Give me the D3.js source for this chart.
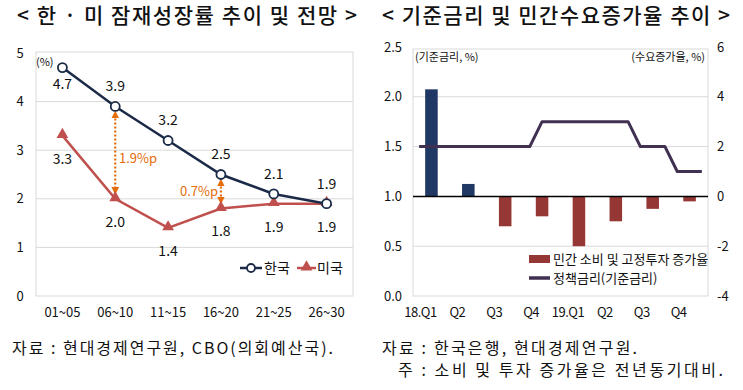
<!DOCTYPE html>
<html>
<head>
<meta charset="utf-8">
<script src="https://cdn.jsdelivr.net/npm/d3@7"></script>
<style>
  body { margin: 0; background: #fff; }
  svg text { font-family: "Noto Sans CJK KR", "Noto Sans", sans-serif; fill: #111; }
</style>
</head>
<body>
<div id="chart"></div>
<script>
// left chart data
var periods = ["01~05", "06~10", "11~15", "16~20", "21~25", "26~30"];
var korea = [4.7, 3.9, 3.2, 2.5, 2.1, 1.9];
var usa = [3.3, 2.0, 1.4, 1.8, 1.9, 1.9];
var leftTicks = [0, 1, 2, 3, 4, 5];

// right chart data
var quarters = ["18.Q1", "Q2", "Q3", "Q4", "19.Q1", "Q2", "Q3", "Q4"];
var demandGrowth = [4.3, 0.5, -1.2, -0.8, -2.0, -1.0, -0.5, -0.2];
// policy rate, monthly 2018.01 ~ 2019.12
var policyRate = [1.5, 1.5, 1.5, 1.5, 1.5, 1.5, 1.5, 1.5, 1.5, 1.5, 1.75, 1.75,
                  1.75, 1.75, 1.75, 1.75, 1.75, 1.75, 1.5, 1.5, 1.5, 1.25, 1.25, 1.25];
var rateTicks = [0, 0.5, 1.0, 1.5, 2.0, 2.5];
var growthTicks = [-4, -2, 0, 2, 4, 6];

var svg = d3.select('#chart').append('svg')
  .attr('width', 743).attr('height', 390);

// titles
svg.append('text').attr('x', 17).attr('y', 23)
  .attr('font-size', 21).attr('font-weight', 500)
  .attr('textLength', 340).attr('lengthAdjust', 'spacing')
  .text('< 한 · 미 잠재성장률 추이 및 전망 >');
svg.append('text').attr('x', 382).attr('y', 23)
  .attr('font-size', 21).attr('font-weight', 500)
  .attr('textLength', 348).attr('lengthAdjust', 'spacing')
  .text('< 기준금리 및 민간수요증가율 추이 >');

// ---------- left chart ----------
var L = { left: 36, right: 353, top: 52, bottom: 296 };
var xL = d3.scalePoint().domain(periods).range([L.left, L.right]).padding(0.5);
var yL = d3.scaleLinear().domain([0, 5]).range([L.bottom, L.top + 1]);

var gL = svg.append('g');
gL.append('rect').attr('x', L.left).attr('y', L.top)
  .attr('width', L.right - L.left).attr('height', L.bottom - L.top)
  .attr('fill', 'none').attr('stroke', '#d9d9d9');
gL.selectAll('line.grid').data(leftTicks.slice(1, 5)).enter().append('line')
  .attr('x1', L.left).attr('x2', L.right)
  .attr('y1', function(d) { return yL(d); }).attr('y2', function(d) { return yL(d); })
  .attr('stroke', '#d9d9d9');
gL.selectAll('text.ytick').data(leftTicks).enter().append('text')
  .attr('x', 20).attr('y', function(d) { return yL(d); })
  .attr('dy', '0.35em').attr('text-anchor', 'middle').attr('font-size', 13)
  .text(function(d) { return d; });
gL.selectAll('text.xtick').data(periods).enter().append('text')
  .attr('x', function(d) { return xL(d); }).attr('y', 317)
  .attr('text-anchor', 'middle').attr('font-size', 13)
  .text(function(d) { return d; });
gL.append('text').attr('x', 36).attr('y', 62).attr('dy', '0.35em')
  .attr('font-size', 11).text('(%)');

// orange gap arrows
var orange = '#e46c0a';
var defs = svg.append('defs');
defs.append('marker').attr('id', 'arr').attr('viewBox', '0 0 10 10')
  .attr('refX', 5).attr('refY', 5).attr('markerWidth', 3.5).attr('markerHeight', 3.5)
  .attr('orient', 'auto-start-reverse')
  .append('path').attr('d', 'M0,0L10,5L0,10Z').attr('fill', orange);

function gapArrow(i, txt, tx, ty) {
  var x = xL(periods[i]);
  gL.append('line').attr('x1', x).attr('x2', x)
    .attr('y1', yL(korea[i]) + 8).attr('y2', yL(usa[i]) - 8)
    .attr('stroke', orange).attr('stroke-width', 2.2).attr('stroke-dasharray', '2,2')
    .attr('marker-start', 'url(#arr)').attr('marker-end', 'url(#arr)');
  gL.append('text').attr('x', tx).attr('y', ty).attr('dy', '0.35em')
    .attr('font-size', 13).style('fill', orange).text(txt);
}
gapArrow(1, '1.9%p', 119, 158);
gapArrow(3, '0.7%p', 180, 191);

var navy = '#1b2a47', red = '#c0504d';
var lineL = d3.line().x(function(d, i) { return xL(periods[i]); }).y(function(d) { return yL(d); });
gL.append('path').datum(usa).attr('d', lineL).attr('fill', 'none')
  .attr('stroke', red).attr('stroke-width', 2.5);
gL.append('path').datum(korea).attr('d', lineL).attr('fill', 'none')
  .attr('stroke', navy).attr('stroke-width', 2.5);

var tri = d3.symbol().type(d3.symbolTriangle).size(60);
gL.selectAll('path.us').data(usa).enter().append('path')
  .attr('d', tri).attr('fill', red)
  .attr('transform', function(d, i) { return 'translate(' + xL(periods[i]) + ',' + (yL(d) - 1) + ')'; });
gL.selectAll('circle.kr').data(korea).enter().append('circle')
  .attr('cx', function(d, i) { return xL(periods[i]); }).attr('cy', function(d) { return yL(d); })
  .attr('r', 4.5).attr('fill', 'white').attr('stroke', navy).attr('stroke-width', 1.8);

gL.selectAll('text.krl').data(korea).enter().append('text')
  .attr('x', function(d, i) { return xL(periods[i]); })
  .attr('y', function(d, i) { return yL(d) + (i == 0 ? 17 : -20); })
  .attr('dy', '0.35em').attr('text-anchor', 'middle').attr('font-size', 14)
  .text(function(d) { return d.toFixed(1); });
gL.selectAll('text.usl').data(usa).enter().append('text')
  .attr('x', function(d, i) { return xL(periods[i]); })
  .attr('y', function(d) { return yL(d) + 23; })
  .attr('dy', '0.35em').attr('text-anchor', 'middle').attr('font-size', 14)
  .text(function(d) { return d.toFixed(1); });

// left legend
var lg = gL.append('g').attr('transform', 'translate(240,268)');
lg.append('line').attr('x1', 0).attr('x2', 22).attr('stroke', navy).attr('stroke-width', 2.5);
lg.append('circle').attr('cx', 11).attr('r', 4).attr('fill', 'white').attr('stroke', navy).attr('stroke-width', 1.8);
lg.append('text').attr('x', 24).attr('dy', '0.35em').attr('font-size', 14).text('한국');
lg.append('line').attr('x1', 57).attr('x2', 76).attr('stroke', red).attr('stroke-width', 2.5);
lg.append('path').attr('d', tri).attr('fill', red).attr('transform', 'translate(66.5,-1)');
lg.append('text').attr('x', 77).attr('dy', '0.35em').attr('font-size', 14).text('미국');

// ---------- right chart ----------
var R = { left: 413, right: 708, top: 47, bottom: 296 };
var xR = d3.scaleBand().domain(d3.range(quarters.length)).range([R.left, R.right])
  .paddingInner(0.66).paddingOuter(0.33);
var yRate = d3.scaleLinear().domain([0, 2.5]).range([R.bottom, R.top]);
var yGrowth = d3.scaleLinear().domain([-4, 6]).range([R.bottom, R.top]);
var xMonth = d3.scaleLinear().domain([-0.5, 23.5]).range([R.left, R.right]);

var gR = svg.append('g');
gR.append('rect').attr('x', R.left).attr('y', R.top + 2)
  .attr('width', R.right - R.left).attr('height', R.bottom - R.top - 2)
  .attr('fill', 'none').attr('stroke', '#d9d9d9');
gR.selectAll('line.grid').data([0.5, 1.5, 2.0]).enter().append('line')
  .attr('x1', R.left).attr('x2', R.right)
  .attr('y1', function(d) { return yRate(d); }).attr('y2', function(d) { return yRate(d); })
  .attr('stroke', '#d9d9d9');

gR.selectAll('text.yl').data(rateTicks).enter().append('text')
  .attr('x', 402).attr('y', function(d) { return yRate(d); })
  .attr('dy', '0.35em').attr('text-anchor', 'end').attr('font-size', 13)
  .text(function(d) { return d.toFixed(1); });
gR.selectAll('text.yr').data(growthTicks).enter().append('text')
  .attr('x', 717).attr('y', function(d) { return yGrowth(d); })
  .attr('dy', '0.35em').attr('text-anchor', 'start').attr('font-size', 13)
  .text(function(d) { return d; });
gR.selectAll('text.xtick').data(quarters).enter().append('text')
  .attr('x', function(d, i) { return xR(i) + xR.bandwidth() / 2 - 11; }).attr('y', 317)
  .attr('text-anchor', 'middle').attr('font-size', 13).attr('letter-spacing', -0.5)
  .text(function(d) { return d; });

gR.append('text').attr('x', 415).attr('y', 57).attr('dy', '0.35em')
  .attr('font-size', 11).text('(기준금리, %)');
gR.append('text').attr('x', 705).attr('y', 57).attr('dy', '0.35em')
  .attr('text-anchor', 'end').attr('font-size', 11).text('(수요증가율, %)');

gR.selectAll('rect.bar').data(demandGrowth).enter().append('rect')
  .attr('x', function(d, i) { return xR(i); })
  .attr('width', xR.bandwidth())
  .attr('y', function(d) { return yGrowth(Math.max(0, d)); })
  .attr('height', function(d) { return Math.abs(yGrowth(d) - yGrowth(0)); })
  .attr('fill', function(d) { return d >= 0 ? '#1f3864' : '#953735'; });

gR.append('line').attr('x1', R.left).attr('x2', R.right)
  .attr('y1', yGrowth(0)).attr('y2', yGrowth(0))
  .attr('stroke', '#000').attr('stroke-width', 1.5);

var purple = '#403152';
var lineR = d3.line().x(function(d, i) { return xMonth(i); }).y(function(d) { return yRate(d); });
gR.append('path').datum(policyRate).attr('d', lineR).attr('fill', 'none')
  .attr('stroke', purple).attr('stroke-width', 3).attr('stroke-linejoin', 'round');

// right legend
var rg = gR.append('g').attr('transform', 'translate(529,259)');
rg.append('rect').attr('x', 0).attr('y', -4).attr('width', 21).attr('height', 8).attr('fill', '#953735');
rg.append('text').attr('x', 24).attr('dy', '0.35em').attr('font-size', 13).text('민간 소비 및 고정투자 증가율');
rg.append('line').attr('x1', 0).attr('x2', 21).attr('y1', 19).attr('y2', 19)
  .attr('stroke', purple).attr('stroke-width', 3.5);
rg.append('text').attr('x', 24).attr('y', 19).attr('dy', '0.35em').attr('font-size', 13).text('정책금리(기준금리)');

// footnotes
svg.append('text').attr('x', 12).attr('y', 354).attr('font-size', 16)
  .attr('textLength', 321).attr('lengthAdjust', 'spacing')
  .text('자료 : 현대경제연구원, CBO(의회예산국).');
svg.append('text').attr('x', 382).attr('y', 354).attr('font-size', 16)
  .attr('textLength', 255).attr('lengthAdjust', 'spacing')
  .text('자료 : 한국은행, 현대경제연구원.');
svg.append('text').attr('x', 398).attr('y', 376).attr('font-size', 16)
  .attr('textLength', 325).attr('lengthAdjust', 'spacing')
  .text('주 : 소비 및 투자 증가율은 전년동기대비.');
</script>
</body>
</html>
